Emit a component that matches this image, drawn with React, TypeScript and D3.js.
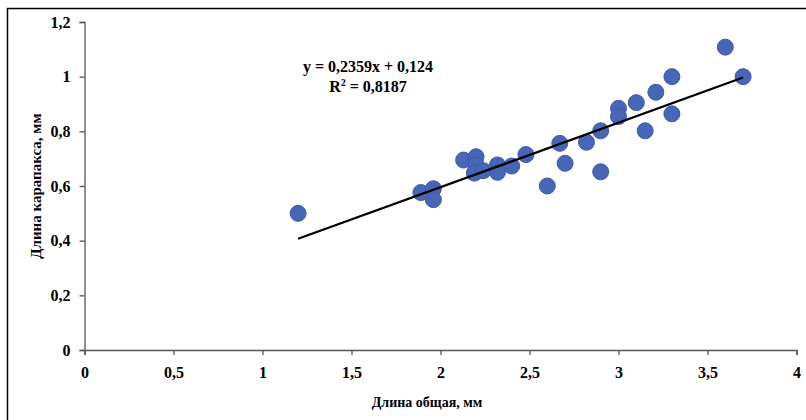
import React, { useEffect, useRef } from "react";
import * as d3 from "d3";

// total length (mm) vs carapace length (mm)
const totalLength = [
  1.2, 1.89, 1.96, 1.96, 2.13, 2.2, 2.2, 2.19, 2.24, 2.32, 2.32, 2.4, 2.48, 2.6,
  2.67, 2.7, 2.82, 2.9, 2.9, 3.0, 3.0, 3.1, 3.15, 3.21, 3.3, 3.3, 3.6, 3.7,
];
const carapaceLength = [
  0.5, 0.576, 0.59, 0.55, 0.695, 0.707, 0.677, 0.647, 0.656, 0.677, 0.65, 0.673,
  0.715, 0.6, 0.756, 0.683, 0.76, 0.802, 0.652, 0.884, 0.854, 0.905, 0.802,
  0.943, 1.0, 0.864, 1.108, 1.0,
];
const xTicks = [0, 0.5, 1, 1.5, 2, 2.5, 3, 3.5, 4];
const yTicks = [0, 0.2, 0.4, 0.6, 0.8, 1, 1.2];
const slope = 0.2359;
const intercept = 0.124;
const equationText = "y = 0,2359x + 0,124";
const r2Text = "0,8187";
const xTitle = "Длина общая, мм";
const yTitle = "Длина карапакса, мм";

const fmt = (v: number) => String(v).replace(".", ",");

export default function App() {
  const ref = useRef<SVGSVGElement>(null);

  useEffect(() => {
    const width = 806;
    const height = 420;
    const margin = { top: 22, right: 9.5, bottom: 70, left: 84.5 };
    const font = "'Liberation Serif', 'Times New Roman', serif";

    const svg = d3.select(ref.current);
    svg.selectAll("*").remove();
    svg.attr("width", width).attr("height", height);

    // outer frame (clipped on the right and bottom like the original)
    svg.append("rect")
      .attr("x", 7.5).attr("y", 8.5)
      .attr("width", 820).attr("height", 430)
      .attr("fill", "white")
      .attr("stroke", "#000")
      .attr("stroke-width", 1.5);

    const x = d3.scaleLinear().domain([0, 4]).range([margin.left, width - margin.right]);
    const y = d3.scaleLinear().domain([0, 1.2]).range([height - margin.bottom, margin.top]);

    const xAxis = svg.append("g")
      .attr("transform", `translate(0, ${y(0)})`)
      .call(d3.axisBottom(x).tickValues(xTicks).tickFormat(d => fmt(+d)).tickSize(5).tickPadding(12));
    const yAxis = svg.append("g")
      .attr("transform", `translate(${x(0)}, 0)`)
      .call(d3.axisLeft(y).tickValues(yTicks).tickFormat(d => fmt(+d)).tickSize(5).tickPadding(9));

    [xAxis, yAxis].forEach(g => {
      g.select(".domain").attr("stroke", "#555").attr("stroke-width", 1.3);
      g.selectAll(".tick line").attr("stroke", "#555").attr("stroke-width", 1.3);
      g.selectAll(".tick text")
        .attr("fill", "#000")
        .style("font-family", font)
        .style("font-weight", "bold")
        .style("font-size", "16px");
    });

    const [xMin, xMax] = d3.extent(totalLength) as [number, number];

    const pts = totalLength.map((v, i) => ({ x: v, y: carapaceLength[i] }));
    svg.append("g").selectAll("circle")
      .data(pts)
      .enter()
      .append("circle")
      .attr("cx", d => x(d.x))
      .attr("cy", d => y(d.y))
      .attr("r", 8)
      .attr("fill", "#4866b6")
      .attr("stroke", "#3f5aa6")
      .attr("stroke-width", 1);

    // trend line from min to max of the data, above the markers
    svg.append("line")
      .attr("x1", x(xMin)).attr("y1", y(slope * xMin + intercept))
      .attr("x2", x(xMax)).attr("y2", y(slope * xMax + intercept))
      .attr("stroke", "#000")
      .attr("stroke-width", 2.3);

    svg.append("text")
      .attr("x", 368).attr("y", 72)
      .attr("text-anchor", "middle")
      .style("font-family", font)
      .style("font-weight", "bold")
      .style("font-size", "16px")
      .text(equationText);

    const r2 = svg.append("text")
      .attr("x", 368).attr("y", 92)
      .attr("text-anchor", "middle")
      .style("font-family", font)
      .style("font-weight", "bold")
      .style("font-size", "16px");
    r2.append("tspan").text("R");
    r2.append("tspan").attr("dy", -6).style("font-size", "10px").text("2");
    r2.append("tspan").attr("dy", 6).text(" = " + r2Text);

    svg.append("text")
      .attr("x", 427).attr("y", 407)
      .attr("text-anchor", "middle")
      .style("font-family", font)
      .style("font-weight", "bold")
      .style("font-size", "14px")
      .text(xTitle);

    svg.append("text")
      .attr("transform", `translate(41, ${(y(0) + y(1.2)) / 2}) rotate(-90)`)
      .attr("text-anchor", "middle")
      .style("font-family", font)
      .style("font-weight", "bold")
      .style("font-size", "15px")
      .text(yTitle);
  }, []);

  return (
    <svg
      ref={ref}
      style={{ position: "absolute", left: 0, top: 0, display: "block", background: "white" }}
    />
  );
}
